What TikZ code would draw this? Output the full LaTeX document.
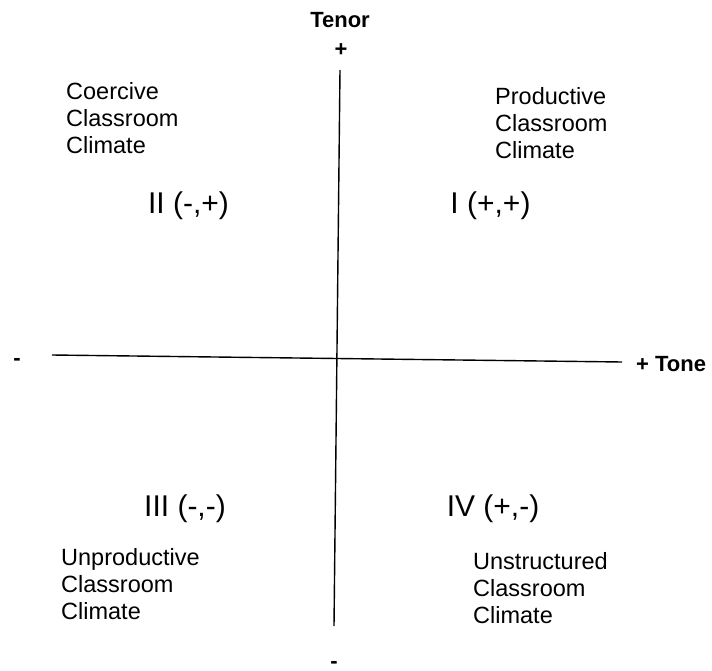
\documentclass[tikz,border=0pt]{standalone}
\usepackage{fontspec}
\setmainfont{Liberation Sans}
\begin{document}
\begin{tikzpicture}[x=1pt,y=-1pt,
  lbl/.style={inner sep=0pt,align=left,anchor=north west,font=\fontsize{23.5}{27}\selectfont},
  quad/.style={inner sep=0pt,font=\fontsize{30}{34}\selectfont},
  axlbl/.style={inner sep=0pt,font=\fontsize{22}{26}\selectfont\bfseries},
  axis/.style={line width=1.4pt}]
\useasboundingbox (0,0) rectangle (712,671);

% axes
\coordinate (top) at (340,70);
\coordinate (bot) at (334,626);
\coordinate (lft) at (52,355);
\coordinate (rgt) at (622,362);
\draw[axis] (top)--(bot);
\draw[axis] (lft)--(rgt);

% axis labels
\node[axlbl,anchor=base] (tenor) at (340,28) {Tenor};
\node[axlbl,anchor=base] (tplus) at (341,57) {+};
\node[axlbl,anchor=base] (bminus) at (334,668) {-};
\node[axlbl,anchor=base] (lminus) at (17,365.5) {-};
\node[axlbl,anchor=west] (tone) at (636,364) {+ Tone};

% quadrant names
\node[lbl] (coer) at (66,82) {Coercive\\Classroom\\Climate};
\node[lbl] (prod) at (495,87) {Productive\\Classroom\\Climate};
\node[lbl] (unpr) at (61,548) {Unproductive\\Classroom\\Climate};
\node[lbl] (unst) at (473,552) {Unstructured\\Classroom\\Climate};

% quadrant numbers
\node[quad] (II) at (188.5,206) {II (-,+)};
\node[quad] (I) at (490.5,206) {I (+,+)};
\node[quad] (III) at (185,509) {III (-,-)};
\node[quad] (IV) at (493,509) {IV (+,-)};
\end{tikzpicture}
\end{document}
